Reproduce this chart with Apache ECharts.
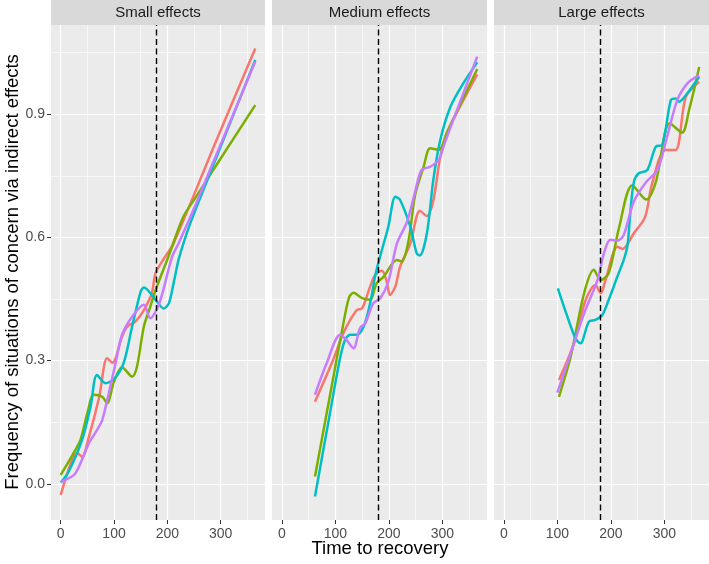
<!DOCTYPE html>
<html>
<head>
<meta charset="utf-8">
<title>Frequency of situations of concern</title>
<script src="https://cdn.jsdelivr.net/npm/echarts@6/dist/echarts.min.js"></script>
<style>
html, body { margin: 0; padding: 0; background: #fff; }
#chart { width: 709px; height: 564px; }
</style>
</head>
<body>
<div id="chart"></div>
<script>
// panel titles and series colours (ggplot default hues)
var panels = ['Small effects', 'Medium effects', 'Large effects'];
var colors = ['#F8766D', '#7CAE00', '#00BFC4', '#C77CFF'];

var xTicks = [0, 100, 200, 300];
var xMinor = [50, 150, 250, 350];
var yTicks = [0, 0.3, 0.6, 0.9];
var yMinor = [0.15, 0.45, 0.75, 1.05];
var recoveryDay = 180;

// [time to recovery, frequency]
var smallRed = [[0,-0.027],[19,0.05],[31,0.075],[40,0.066],[53,0.115],[72,0.21],[87,0.306],[97,0.295],[115,0.358],[125,0.383],[140,0.395],[156,0.423],[171,0.464],[178,0.513],[196,0.553],[212,0.586],[290,0.83],[365,1.06]];
var smallGreen = [[0,0.022],[22,0.07],[37,0.107],[50,0.172],[62,0.217],[78,0.212],[87,0.196],[100,0.249],[115,0.284],[134,0.261],[143,0.285],[156,0.383],[168,0.431],[178,0.472],[202,0.553],[230,0.65],[252,0.695],[300,0.792],[365,0.922]];
var smallCyan = [[0,0.003],[15,0.03],[40,0.107],[56,0.188],[68,0.265],[84,0.245],[100,0.255],[118,0.294],[134,0.383],[150,0.468],[156,0.478],[178,0.448],[193,0.427],[203,0.44],[212,0.49],[222,0.55],[243,0.634],[274,0.736],[365,1.032]];
var smallPurple = [[0,0.005],[25,0.022],[37,0.05],[53,0.099],[68,0.131],[78,0.156],[90,0.22],[103,0.294],[115,0.363],[134,0.407],[156,0.436],[168,0.403],[181,0.427],[190,0.46],[209,0.553],[221,0.585],[249,0.667],[280,0.764],[365,1.028]];

var medRed = [[62,0.2],[96,0.302],[115,0.367],[140,0.423],[150,0.427],[165,0.48],[174,0.508],[187,0.519],[196,0.492],[202,0.46],[212,0.48],[221,0.529],[240,0.585],[258,0.665],[271,0.652],[283,0.69],[296,0.796],[308,0.853],[365,0.997]];
var medGreen = [[62,0.018],[90,0.215],[115,0.39],[126,0.455],[134,0.465],[150,0.452],[165,0.448],[177,0.488],[190,0.504],[215,0.545],[224,0.541],[237,0.594],[249,0.703],[265,0.772],[277,0.817],[293,0.813],[310,0.86],[365,1.01]];
var medCyan = [[62,-0.031],[90,0.172],[108,0.3],[118,0.35],[128,0.363],[140,0.363],[153,0.383],[165,0.44],[175,0.51],[185,0.56],[199,0.626],[212,0.699],[221,0.691],[240,0.626],[252,0.561],[258,0.556],[271,0.61],[283,0.74],[296,0.837],[315,0.918],[339,0.975],[365,1.026]];
var medPurple = [[62,0.217],[84,0.294],[109,0.363],[121,0.35],[134,0.33],[146,0.379],[156,0.391],[171,0.44],[184,0.452],[199,0.492],[215,0.585],[234,0.638],[249,0.711],[261,0.764],[277,0.772],[293,0.788],[302,0.821],[318,0.878],[365,1.04]];

var largeRed = [[103,0.253],[131,0.342],[153,0.448],[171,0.484],[181,0.464],[190,0.496],[212,0.577],[222,0.572],[243,0.61],[264,0.65],[277,0.731],[302,0.813],[321,0.813],[340,0.942],[365,0.979]];
var largeGreen = [[103,0.212],[125,0.31],[150,0.464],[168,0.521],[181,0.496],[196,0.513],[215,0.622],[240,0.727],[266,0.692],[284,0.735],[310,0.878],[333,0.855],[346,0.91],[365,1.015]];
var largeCyan = [[101,0.476],[118,0.41],[134,0.354],[143,0.342],[159,0.395],[171,0.399],[184,0.411],[196,0.448],[212,0.504],[224,0.545],[231,0.58],[237,0.67],[243,0.735],[252,0.756],[268,0.764],[284,0.821],[296,0.825],[312,0.934],[321,0.938],[327,0.93],[340,0.946],[365,0.991]];
var largePurple = [[100,0.222],[125,0.318],[150,0.415],[175,0.496],[187,0.561],[199,0.594],[212,0.592],[224,0.606],[243,0.688],[266,0.735],[287,0.764],[305,0.845],[324,0.934],[343,0.975],[365,0.995]];

var panelData = [
    [smallRed, smallGreen, smallCyan, smallPurple],
    [medRed, medGreen, medCyan, medPurple],
    [largeRed, largeGreen, largeCyan, largePurple]
];

var font = 'Liberation Sans, Arial, sans-serif';
var lefts = [51, 272, 494];
var widths = [214, 215, 215];
var xMin = -18.25, xMax = 383.25, yMin = -0.088, yMax = 1.117;

var grids = [], xAxes = [], yAxes = [], series = [], graphics = [];

panels.forEach(function (title, i) {
    grids.push({
        left: lefts[i], top: 25, width: widths[i], height: 495,
        show: true, backgroundColor: '#EBEBEB', borderWidth: 0
    });
    graphics.push({
        type: 'rect', left: lefts[i], top: 0,
        shape: {width: widths[i], height: 25},
        style: {fill: '#D9D9D9'}
    });
    graphics.push({
        type: 'text', x: lefts[i] + widths[i] / 2, y: 13,
        style: {text: title, fill: '#1A1A1A', font: '15px ' + font, align: 'center', verticalAlign: 'middle'}
    });
});

// major axes first (index 0..2), minor grid axes after (index 3..5)
panels.forEach(function (t, i) {
    xAxes.push({
        type: 'value', gridIndex: i, min: xMin, max: xMax, position: 'bottom',
        axisLine: {show: false, onZero: false},
        axisTick: {show: true, length: 4, customValues: xTicks, lineStyle: {color: '#333', width: 1}},
        axisLabel: {customValues: xTicks, color: '#4D4D4D', fontSize: 14, margin: 7, fontFamily: font},
        splitLine: {show: true, lineStyle: {color: '#fff', width: 1.2}}
    });
    yAxes.push({
        type: 'value', gridIndex: i, min: yMin, max: yMax, position: 'left',
        axisLine: {show: false, onZero: false},
        axisTick: {show: i === 0, length: 4, customValues: yTicks, lineStyle: {color: '#333', width: 1}},
        axisLabel: {
            show: i === 0, customValues: yTicks, color: '#4D4D4D', fontSize: 14, margin: 6, fontFamily: font,
            formatter: function (v) { return v.toFixed(1); }
        },
        splitLine: {show: true, lineStyle: {color: '#fff', width: 1.2}}
    });
});
panels.forEach(function (t, i) {
    xAxes.push({
        type: 'value', gridIndex: i, min: xMin, max: xMax, position: 'top',
        axisLine: {show: false, onZero: false},
        axisTick: {show: false, customValues: xMinor},
        axisLabel: {show: false, customValues: xMinor},
        splitLine: {show: true, lineStyle: {color: '#fff', width: 0.6}}
    });
    yAxes.push({
        type: 'value', gridIndex: i, min: yMin, max: yMax, position: 'right',
        axisLine: {show: false, onZero: false},
        axisTick: {show: false, customValues: yMinor},
        axisLabel: {show: false, customValues: yMinor},
        splitLine: {show: true, lineStyle: {color: '#fff', width: 0.6}}
    });
});

panelData.forEach(function (lines, i) {
    lines.forEach(function (pts, k) {
        var s = {
            type: 'line', xAxisIndex: i, yAxisIndex: i,
            data: pts, smooth: 0.3, showSymbol: false, symbol: 'none',
            lineStyle: {color: colors[k], width: 2.5},
            itemStyle: {color: colors[k]}
        };
        if (k === lines.length - 1) {
            s.markLine = {
                silent: true, symbol: 'none', label: {show: false},
                lineStyle: {color: '#000', type: [6, 3.5], width: 1.4},
                data: [{xAxis: recoveryDay}]
            };
        }
        series.push(s);
    });
});

graphics.push({
    type: 'text', x: 380, y: 549,
    style: {text: 'Time to recovery', fill: '#000', font: '18.5px ' + font, align: 'center', verticalAlign: 'middle'}
});
graphics.push({
    type: 'text', x: 13, y: 272, rotation: Math.PI / 2,
    style: {text: 'Frequency of situations of concern via indirect effects', fill: '#000', font: '18.5px ' + font, align: 'center', verticalAlign: 'middle'}
});

var chart = echarts.init(document.getElementById('chart'));
chart.setOption({
    animation: false,
    grid: grids,
    xAxis: xAxes,
    yAxis: yAxes,
    series: series,
    graphic: graphics
});
</script>
</body>
</html>
